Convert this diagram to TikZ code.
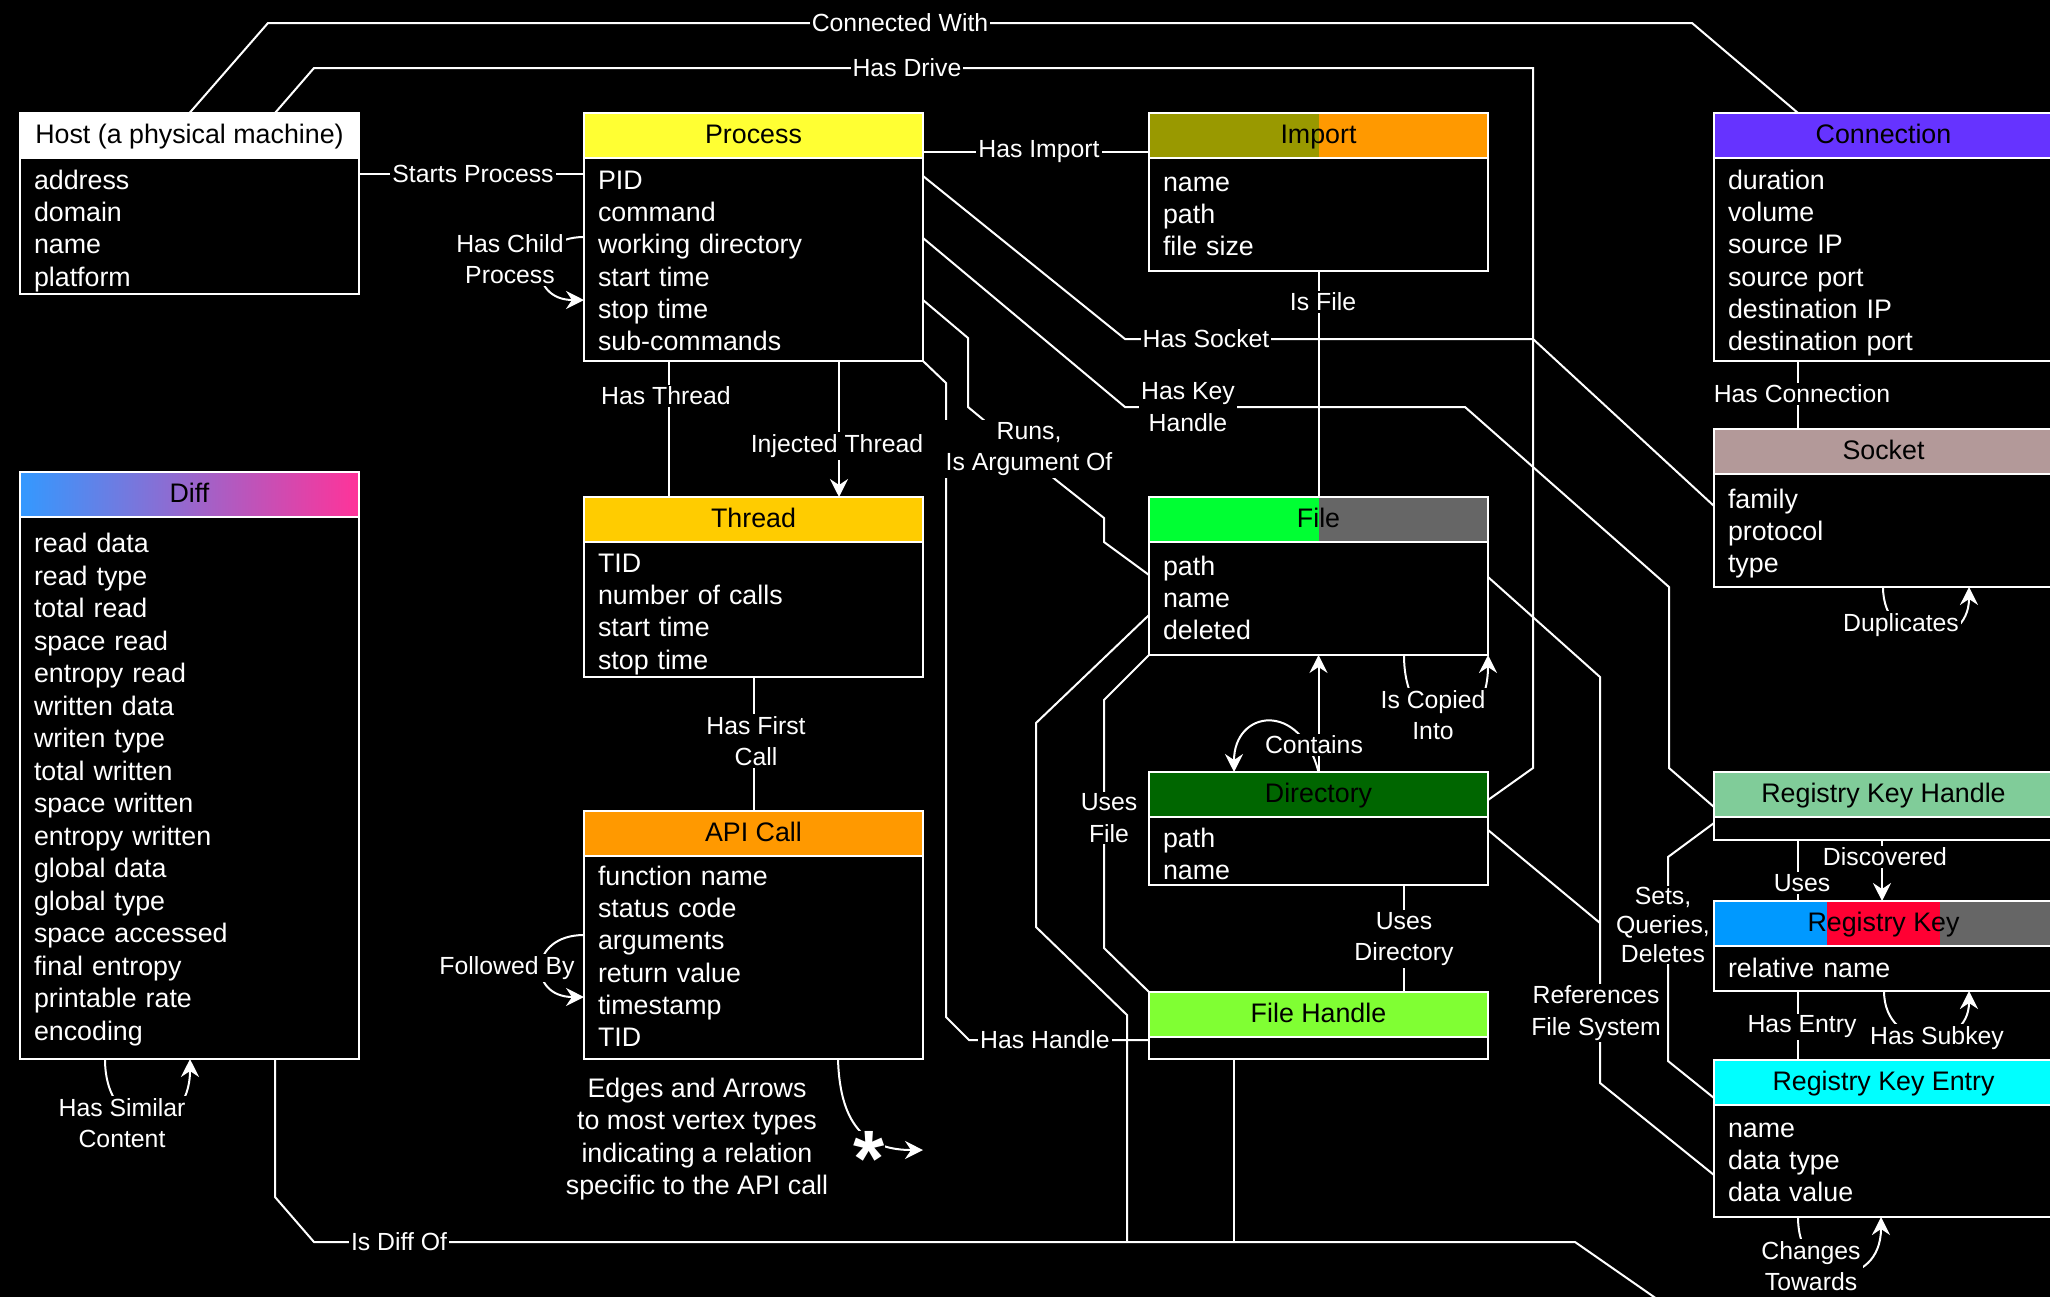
\documentclass[tikz,border=0pt]{standalone}
\usepackage{fontspec}
\setmainfont{Liberation Sans}
\usetikzlibrary{arrows.meta,positioning}
\definecolor{procc}{HTML}{FFFF33}
\definecolor{impl}{HTML}{999900}
\definecolor{impr}{HTML}{FF9900}
\definecolor{connc}{HTML}{6633FF}
\definecolor{diffl}{HTML}{3399FF}
\definecolor{diffr}{HTML}{FF3399}
\definecolor{thrc}{HTML}{FFCC00}
\definecolor{apic}{HTML}{FF9900}
\definecolor{filel}{HTML}{00FF33}
\definecolor{greyc}{HTML}{666666}
\definecolor{dirc}{HTML}{006600}
\definecolor{fhc}{HTML}{80FF33}
\definecolor{sockc}{HTML}{B39999}
\definecolor{rkhc}{HTML}{80CC99}
\definecolor{rkl}{HTML}{0099FF}
\definecolor{rkm}{HTML}{FF0033}
\definecolor{rkec}{HTML}{00FFFF}

\begin{document}
\begin{tikzpicture}[x=0.5pt, y=-0.5pt, line width=1pt, white,
    font=\fontsize{13.4}{16.1}\selectfont,
    >={Stealth[length=9pt,width=9pt,inset=3pt]},
    hdr/.style={draw=white, text=black, minimum width=169.5pt, minimum height=22.5pt, inner sep=0pt, outer sep=0pt, text height=7.6pt, text depth=0pt},
    bdy/.style={draw=white, fill=black, minimum width=169.5pt, inner sep=0pt, outer sep=0pt},
    attr/.style={text width=150pt, align=left, inner sep=0pt, text=white, execute at begin node=\strut},
    lbl/.style={fill=black, text=white, inner sep=1pt, align=center, font=\fontsize{12.4}{15.6}\selectfont},
    halves/.style 2 args={path picture={
      \fill[#1] (path picture bounding box.north west) rectangle (path picture bounding box.south);
      \fill[#2] (path picture bounding box.north) rectangle (path picture bounding box.south east);}},
    thirds/.style n args={3}{path picture={
      \fill[#1] (path picture bounding box.north west) rectangle ([xshift=56.5pt]path picture bounding box.south west);
      \fill[#2] ([xshift=56.5pt]path picture bounding box.north west) rectangle ([xshift=-56.5pt]path picture bounding box.south east);
      \fill[#3] ([xshift=-56.5pt]path picture bounding box.north east) rectangle (path picture bounding box.south east);}}]
  \path[use as bounding box, fill=black] (0,0) rectangle (2050,1297);

  % vertex types
  \node[hdr, fill=white] (host) at (189.5,135.5) {Host (a physical machine)};
  \node[bdy, below=0pt of host, minimum height=68pt] (hostb) {};
  \node[attr, below right=4pt and 6.5pt of hostb.north west] (hosta) {address\\domain\\name\\platform};

  \node[hdr, fill=procc] (proc) at (753.5,135.5) {Process};
  \node[bdy, below=0pt of proc, minimum height=101.5pt] (procb) {};
  \node[attr, below right=4pt and 6.5pt of procb.north west] (proca) {PID\\command\\working directory\\start time\\stop time\\sub-commands};

  \node[hdr, halves={impl}{impr}] (imp) at (1318.5,135.5) {Import};
  \node[bdy, below=0pt of imp, minimum height=56.5pt] (impb) {};
  \node[attr, below right=5pt and 6.5pt of impb.north west] (impa) {name\\path\\file size};

  \node[hdr, fill=connc] (conn) at (1883.5,135.5) {Connection};
  \node[bdy, below=0pt of conn, minimum height=101.5pt] (connb) {};
  \node[attr, below right=4pt and 6.5pt of connb.north west] (conna) {duration\\volume\\source IP\\source port\\destination IP\\destination port};

  \node[hdr, left color=diffl, right color=diffr] (diff) at (189.5,494.5) {Diff};
  \node[bdy, below=0pt of diff, minimum height=271pt] (diffb) {};
  \node[attr, below right=6pt and 6.5pt of diffb.north west, font=\fontsize{13.4}{16.25}\selectfont] (diffa) {read data\\read type\\total read\\space read\\entropy read\\written data\\writen type\\total written\\space written\\entropy written\\global data\\global type\\space accessed\\final entropy\\printable rate\\encoding};

  \node[hdr, fill=thrc] (thr) at (753.5,519.5) {Thread};
  \node[bdy, below=0pt of thr, minimum height=67.5pt] (thrb) {};
  \node[attr, below right=3.5pt and 6.5pt of thrb.north west] (thra) {TID\\number of calls\\start time\\stop time};

  \node[hdr, fill=apic] (api) at (753.5,833.5) {API Call};
  \node[bdy, below=0pt of api, minimum height=101.5pt] (apib) {};
  \node[attr, below right=3pt and 6.5pt of apib.north west] (apia) {function name\\status code\\arguments\\return value\\timestamp\\TID};

  \node[hdr, halves={filel}{greyc}] (file) at (1318.5,519.5) {File};
  \node[bdy, below=0pt of file, minimum height=56.5pt] (fileb) {};
  \node[attr, below right=5pt and 6.5pt of fileb.north west] (filea) {path\\name\\deleted};

  \node[hdr, fill=dirc] (dir) at (1318.5,794.5) {Directory};
  \node[bdy, below=0pt of dir, minimum height=34pt] (dirb) {};
  \node[attr, below right=3.5pt and 6.5pt of dirb.north west] (dira) {path\\name};

  \node[hdr, fill=fhc] (fh) at (1318.5,1014.5) {File Handle};
  \node[bdy, below=0pt of fh, minimum height=11pt] (fhb) {};

  \node[hdr, fill=sockc] (sock) at (1883.5,451.5) {Socket};
  \node[bdy, below=0pt of sock, minimum height=56.5pt] (sockb) {};
  \node[attr, below right=5.5pt and 6.5pt of sockb.north west] (socka) {family\\protocol\\type};

  \node[hdr, fill=rkhc] (rkh) at (1883.5,794.5) {Registry Key Handle};
  \node[bdy, below=0pt of rkh, minimum height=11.5pt] (rkhb) {};

  \node[hdr, thirds={rkl}{rkm}{greyc}] (rk) at (1883.5,923.5) {Registry Key};
  \node[bdy, below=0pt of rk, minimum height=22.5pt] (rkb) {};
  \node[attr, below right=4pt and 6.5pt of rkb.north west] (rka) {relative name};

  \node[hdr, fill=rkec] (rke) at (1883.5,1082.5) {Registry Key Entry};
  \node[bdy, below=0pt of rke, minimum height=56pt] (rkeb) {};
  \node[attr, below right=4.5pt and 6.5pt of rkeb.north west] (rkea) {name\\data type\\data value};

  \coordinate (offedge) at (1667,1306);
  \coordinate (apiout) at (923,1150);

  % edges
  \draw (host.north) -- (268,23) -- (1692,23) -- (conn.north -| 1798,0);
  \draw (host.north -| 275,0) -- (314,68) -- (1533,68) -- (1533,768) -- (dir.east |- 0,800);
  \draw (hostb.east |- 0,174) -- (procb.west |- 0,174);
  \draw[->] (procb.west |- 0,237) .. controls (528,237) and (528,300) .. (procb.west |- 0,300);
  \draw (proc.east |- 0,152) -- (imp.west |- 0,152);
  \draw (procb.east |- 0,176) -- (1125,339) -- (1533,339) -- (sockb.west |- 0,506);
  \draw (procb.east |- 0,238) -- (1125,407) -- (1465,407) -- (1669,587) -- (1669,768) -- (rkh.west |- 0,807);
  \draw (procb.east |- 0,300) -- (968,338) -- (968,407) -- (1056,480) -- (1104,518) -- (1104,542) -- (fileb.west |- 0,575);
  \draw (procb.south east) -- (946,383) -- (946,1017) -- (969,1040) -- (fhb.west |- 0,1040);
  \draw (procb.south -| 669,0) -- (thr.north -| 669,0);
  \draw[->] (procb.south -| 839,0) -- (thr.north -| 839,0);
  \draw (thrb.south) -- (api.north);
  \draw[->] (apib.west |- 0,935) .. controls (528,935) and (528,997) .. (apib.west |- 0,997);
  \draw[->] (apib.south -| 838,0) .. controls (840,1130) and (870,1150) .. (apiout);
  \draw[->] (diffb.south -| 105,0) .. controls (105,1140) and (190,1140) .. (diffb.south -| 190,0);
  \draw (diffb.south -| 275,0) -- (275,1197) -- (314,1242) -- (1575,1242) -- (offedge);
  \draw (fileb.west |- 0,615) -- (1036,723) -- (1036,927) -- (1127,1015) -- (1127,1242);
  \draw (fhb.south -| 1234,0) -- (1234,1242);
  \draw (fileb.south west) -- (1104,700) -- (1104,948) -- (fh.north west);
  \draw[->] (dir.north) -- (fileb.south);
  \draw[->] (dir.north) .. controls (1300,700) and (1234,710) .. (dir.north -| 1234,0);
  \draw[->] (fileb.south -| 1404,0) .. controls (1404,745) and (1488,745) .. (fileb.south east);
  \draw (dirb.south -| 1404,0) -- (fh.north -| 1404,0);
  \draw (fileb.east |- 0,577) -- (1600,677) -- (1600,1083) -- (rkeb.west |- 0,1175);
  \draw (dirb.east |- 0,830) -- (1600,923);
  \draw (impb.south) -- (file.north);
  \draw (connb.south -| 1798,0) -- (sock.north -| 1798,0);
  \draw[->] (sockb.south -| 1883,0) .. controls (1883,652) and (1969,652) .. (sockb.south -| 1969,0);
  \draw (rkhb.west |- 0,823) -- (1668,857) -- (1668,1061) -- (rke.west |- 0,1098);
  \draw (rkhb.south -| 1798,0) -- (rk.north -| 1798,0);
  \draw[->] (rkhb.south -| 1882,0) -- (rk.north -| 1882,0);
  \draw (rkb.south -| 1798,0) -- (rke.north -| 1798,0);
  \draw[->] (rkb.south -| 1884,0) .. controls (1884,1052) and (1969,1052) .. (rkb.south -| 1969,0);
  \draw[->] (rkeb.south -| 1798,0) .. controls (1798,1290) and (1881,1290) .. (rkeb.south -| 1881,0);

  % edge labels
  \node[lbl] (lconn) at (900,23) {Connected With};
  \node[lbl] (ldrive) at (907,68) {Has Drive};
  \node[lbl] (lstart) at (473,174) {Starts Process};
  \node[lbl] (lchild) at (510,259) {Has Child\\Process};
  \node[lbl] (limp) at (1039,152) {Has Import};
  \node[lbl] (lsock) at (1206,339) {Has Socket};
  \node[lbl] (lkeyh) at (1188,407) {Has Key\\Handle};
  \node[lbl] (lruns) at (1029,449) {Runs,\\Is Argument Of};
  \node[lbl] (lhandle) at (1045,1040) {Has Handle};
  \node[lbl] (lthr) at (666,396) {Has Thread};
  \node[lbl] (linj) at (837,446) {Injected Thread};
  \node[lbl] (lfirst) at (756,741) {Has First\\Call};
  \node[lbl] (lfoll) at (507,968) {Followed By};
  \node[lbl] (lsim) at (122,1123) {Has Similar\\Content};
  \node[lbl] (ldiffof) at (399,1242) {Is Diff Of};
  \node[lbl] (lusesf) at (1109,818) {Uses\\File};
  \node[lbl] (lcont) at (1314,745) {Contains};
  \node[lbl] (lcopy) at (1433,715) {Is Copied\\Into};
  \node[lbl] (lusesd) at (1404,939) {Uses\\Directory};
  \node[lbl] (lref) at (1596,1013) {References\\File System};
  \node[lbl] (lisfile) at (1323,302) {Is File};
  \node[lbl] (lhasconn) at (1802,394) {Has Connection};
  \node[lbl] (ldup) at (1901,625) {Duplicates};
  \node[lbl, font=\fontsize{12.4}{14.3}\selectfont] (lsets) at (1663,925) {Sets,\\Queries,\\Deletes};
  \node[lbl] (luses) at (1802,883) {Uses};
  \node[lbl] (ldisc) at (1885,857) {Discovered};
  \node[lbl] (lentry) at (1802,1027) {Has Entry};
  \node[lbl] (lsub) at (1937,1038) {Has Subkey};
  \node[lbl] (lchg) at (1811,1266) {Changes\\Towards};
  \node[lbl, inner sep=0pt, anchor=base, font=\fontsize{40}{40}\selectfont\bfseries] (star) at (869,1186) {*};
  \node[lbl, font=\fontsize{13.4}{16.2}\selectfont] (note) at (697,1139) {Edges and Arrows\\to most vertex types\\indicating a relation\\specific to the API call};
\end{tikzpicture}
\end{document}
